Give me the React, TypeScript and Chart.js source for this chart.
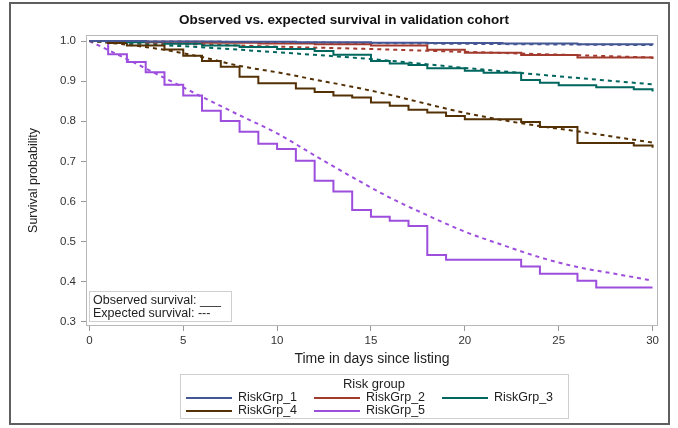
import React, { useEffect, useRef } from "react";
import { Chart, registerables } from "chart.js";

Chart.register(...registerables);

const TITLE = "Observed vs. expected survival in validation cohort";
const X_TITLE = "Time in days since listing";
const Y_TITLE = "Survival probability";
const LEGEND_TITLE = "Risk group";
const BOX_LINES = ["Observed survival: ___", "Expected survival: ---"];

const GROUPS = ["RiskGrp_1", "RiskGrp_2", "RiskGrp_3", "RiskGrp_4", "RiskGrp_5"];
const COLORS = ["#445694", "#A23A2E", "#01665E", "#543005", "#9D4EDD"];

const X_TICKS = [0, 5, 10, 15, 20, 25, 30];
const Y_TICKS = [0.3, 0.4, 0.5, 0.6, 0.7, 0.8, 0.9, 1.0];

// Observed (Kaplan-Meier, stepped)
const OBS1_T = [0, 3, 7, 11, 15, 18, 22, 26, 30];
const OBS1_S = [1.0, 0.999, 0.998, 0.997, 0.996, 0.995, 0.994, 0.992, 0.991];
const OBS2_T = [0, 3, 6, 9, 12, 15, 18, 20, 23, 26, 30];
const OBS2_S = [1.0, 0.998, 0.996, 0.994, 0.992, 0.989, 0.978, 0.971, 0.965, 0.959, 0.955];
const OBS3_T = [0, 2, 4, 6, 8, 10, 12, 13, 15, 16, 17, 18, 20, 21, 23, 24, 25, 27, 29, 30];
const OBS3_S = [1.0, 0.997, 0.993, 0.989, 0.985, 0.98, 0.975, 0.966, 0.95, 0.944, 0.94, 0.932, 0.926, 0.921, 0.903, 0.896, 0.89, 0.885, 0.88, 0.874];
const OBS4_T = [0, 1, 2, 4, 5, 6, 7, 8, 9, 11, 12, 13, 14, 15, 16, 17, 18, 19, 20, 23, 24, 26, 29, 30];
const OBS4_S = [1.0, 0.995, 0.989, 0.979, 0.963, 0.95, 0.936, 0.911, 0.895, 0.882, 0.873, 0.864, 0.859, 0.847, 0.839, 0.829, 0.822, 0.813, 0.805, 0.798, 0.786, 0.746, 0.74, 0.734];
const OBS5_T = [0, 1, 2, 3, 4, 5, 6, 7, 8, 9, 10, 11, 12, 13, 14, 15, 16, 17, 18, 19, 23, 24, 26, 27, 30];
const OBS5_S = [1.0, 0.967, 0.948, 0.922, 0.891, 0.864, 0.826, 0.801, 0.774, 0.744, 0.731, 0.702, 0.652, 0.625, 0.579, 0.562, 0.552, 0.539, 0.467, 0.455, 0.438, 0.42, 0.403, 0.386, 0.386];

// Expected (model-based, dashed)
const EXP1_T = [0, 10, 20, 30];
const EXP1_S = [1.0, 0.997, 0.993, 0.99];
const EXP2_T = [0, 5, 10, 15, 20, 25, 30];
const EXP2_S = [1.0, 0.993, 0.986, 0.98, 0.973, 0.966, 0.959];
const EXP3_T = [0, 5, 10, 15, 20, 25, 30];
const EXP3_S = [1.0, 0.987, 0.972, 0.955, 0.933, 0.912, 0.892];
const EXP4_T = [0, 2, 4, 6, 8, 10, 12, 14, 16, 18, 20, 22, 24, 26, 28, 30];
const EXP4_S = [1.0, 0.991, 0.978, 0.96, 0.938, 0.922, 0.904, 0.886, 0.866, 0.843, 0.821, 0.803, 0.788, 0.775, 0.761, 0.747];
const EXP5_T = [0, 2, 4, 6, 8, 10, 12, 14, 16, 18, 20, 22, 24, 26, 28, 30];
const EXP5_S = [1.0, 0.955, 0.908, 0.861, 0.815, 0.77, 0.715, 0.661, 0.61, 0.566, 0.525, 0.492, 0.461, 0.437, 0.42, 0.403];

const OBS = [
  [OBS1_T, OBS1_S],
  [OBS2_T, OBS2_S],
  [OBS3_T, OBS3_S],
  [OBS4_T, OBS4_S],
  [OBS5_T, OBS5_S],
];
const EXP = [
  [EXP1_T, EXP1_S],
  [EXP2_T, EXP2_S],
  [EXP3_T, EXP3_S],
  [EXP4_T, EXP4_S],
  [EXP5_T, EXP5_S],
];

const FONT = '"Liberation Sans", Arial, Helvetica, sans-serif';

const toPts = (t: number[], s: number[]) => t.map((x, i) => ({ x, y: s[i] }));

const decorPlugin = {
  id: "decor",
  afterDraw(chart: any) {
    const { ctx, chartArea: ca } = chart;
    ctx.save();
    // outer frame
    ctx.strokeStyle = "#5f5f5f";
    ctx.lineWidth = 2;
    ctx.strokeRect(10, 3, 659, 421);
    // plot frame
    ctx.strokeStyle = "#b8b8b8";
    ctx.lineWidth = 1;
    ctx.strokeRect(ca.left + 0.5, ca.top + 0.5, ca.right - ca.left - 1, ca.bottom - ca.top - 1);
    // title
    ctx.fillStyle = "#111";
    ctx.font = `bold 13.5px ${FONT}`;
    ctx.textAlign = "center";
    ctx.textBaseline = "middle";
    ctx.fillText(TITLE, 344, 20);
    // inner note box
    ctx.strokeStyle = "#cfcfcf";
    ctx.strokeRect(89.5, 291.5, 142, 30);
    ctx.fillStyle = "#222";
    ctx.font = `12.5px ${FONT}`;
    ctx.textAlign = "left";
    ctx.fillText(BOX_LINES[0], 93, 301);
    ctx.fillText(BOX_LINES[1], 93, 314);
    // bottom legend
    ctx.strokeStyle = "#cfcfcf";
    ctx.strokeRect(180.5, 374.5, 388, 44);
    ctx.fillStyle = "#222";
    ctx.font = `13px ${FONT}`;
    ctx.textAlign = "center";
    ctx.fillText(LEGEND_TITLE, 374, 384);
    ctx.font = `12.5px ${FONT}`;
    const colX = [186, 314, 442];
    const rowY = [398, 411];
    ctx.textAlign = "left";
    GROUPS.forEach((g, i) => {
      const x = colX[i % 3];
      const y = rowY[Math.floor(i / 3)];
      ctx.strokeStyle = COLORS[i];
      ctx.lineWidth = 2;
      ctx.beginPath();
      ctx.moveTo(x, y);
      ctx.lineTo(x + 46, y);
      ctx.stroke();
      ctx.fillStyle = "#222";
      ctx.fillText(g, x + 52, y);
    });
    ctx.restore();
  },
};

export default function App() {
  const ref = useRef<HTMLCanvasElement>(null);
  useEffect(() => {
    if (!ref.current) return;
    const datasets: any[] = [];
    OBS.forEach(([t, s], i) => {
      datasets.push({
        label: GROUPS[i] + " observed",
        data: toPts(t, s),
        borderColor: COLORS[i],
        borderWidth: 2,
        stepped: "before",
        pointRadius: 0,
        fill: false,
      });
    });
    EXP.forEach(([t, s], i) => {
      datasets.push({
        label: GROUPS[i] + " expected",
        data: toPts(t, s),
        borderColor: COLORS[i],
        borderWidth: 2,
        borderDash: [4, 4],
        pointRadius: 0,
        cubicInterpolationMode: "monotone",
        fill: false,
      });
    });
    const chart = new Chart(ref.current, {
      type: "line",
      data: { datasets },
      options: {
        responsive: false,
        animation: false,
        layout: { padding: { top: 35, right: 20, left: 0, bottom: 0 } },
        plugins: { legend: { display: false }, title: { display: false }, tooltip: { enabled: false } },
        scales: {
          x: {
            type: "linear",
            min: -0.18,
            max: 30.29,
            afterFit: (s: any) => {
              s.height = 102;
            },
            afterBuildTicks: (s: any) => {
              s.ticks = X_TICKS.map((v) => ({ value: v }));
            },
            grid: { display: true, drawOnChartArea: false, drawTicks: true, tickLength: 5, color: "#999" },
            border: { display: false },
            ticks: { font: { size: 11.5, family: FONT }, color: "#333", padding: 3, maxRotation: 0, callback: (v: any) => String(v) },
            title: { display: true, text: X_TITLE, font: { size: 14, family: FONT }, color: "#222", padding: { top: 0, bottom: 60 } },
          },
          y: {
            type: "linear",
            min: 0.29,
            max: 1.015,
            afterFit: (s: any) => {
              s.width = 86;
            },
            afterBuildTicks: (s: any) => {
              s.ticks = Y_TICKS.map((v) => ({ value: v }));
            },
            grid: { display: true, drawOnChartArea: false, drawTicks: true, tickLength: 5, color: "#999" },
            border: { display: false },
            ticks: { font: { size: 11.5, family: FONT }, color: "#333", padding: 5, callback: (v: any) => Number(v).toFixed(1) },
            title: { display: true, text: Y_TITLE, font: { size: 12.5, family: FONT }, color: "#222", padding: { top: 26, bottom: 0 } },
          },
        },
      },
      plugins: [decorPlugin],
    });
    return () => chart.destroy();
  }, []);
  return (
    <div style={{ position: "absolute", left: 0, top: 0, width: 678, height: 428, background: "#fff" }}>
      <canvas ref={ref} width={678} height={428} style={{ display: "block" }} />
    </div>
  );
}
